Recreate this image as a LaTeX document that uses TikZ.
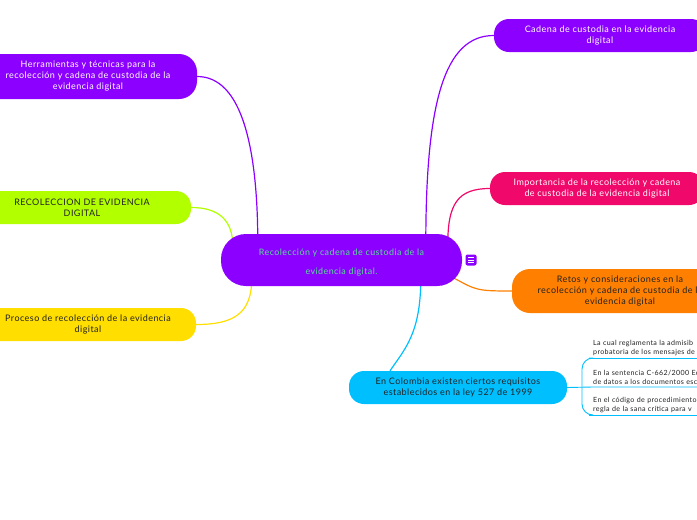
\documentclass[tikz,border=0pt]{standalone}
\usepackage{fontspec}
\setmainfont{Lato}[LetterSpace=5]
\usetikzlibrary{positioning, calc, backgrounds}

\definecolor{mindpurple}{RGB}{140,0,255}
\definecolor{mindpink}{RGB}{240,8,106}
\definecolor{mindorange}{RGB}{255,128,0}
\definecolor{mindlime}{RGB}{178,255,0}
\definecolor{mindyellow}{RGB}{255,222,0}
\definecolor{mindblue}{RGB}{0,191,255}
\definecolor{mindgreen}{RGB}{86,224,150}
\definecolor{minddark}{RGB}{34,34,34}

\tikzset{
  idea/.style={rounded corners=15pt, minimum height=33pt, align=center, inner sep=0pt,
    font=\fontsize{9}{11}\selectfont},
  link/.style={line width=1.2pt},
  note/.style={anchor=south west, align=left, inner xsep=0pt, inner ysep=2pt,
    text width=160pt, font=\fontsize{7.1}{9}\selectfont, text=minddark},
}

\begin{document}
\begin{tikzpicture}[x=1pt, y=-1pt]
  \useasboundingbox (0,0) rectangle (697,520);

  % Nodes
  \node[idea, fill=mindpurple, minimum width=241pt, minimum height=52pt,
    rounded corners=25pt] (main) at (341.5,260) {};
  \node[text=mindgreen, align=center, inner sep=0pt, font=\fontsize{8.9}{19}\selectfont]
    (maintext) at ($(main.center)+(0,2.5)$) {Recolección y cadena de custodia de la\\evidencia digital.};
  \node[fill=mindpurple, rounded corners=2pt, minimum size=11pt, inner sep=0pt,
    path picture={\foreach \k in {-2.5,0,2.5}
      \draw[white, line width=0.9pt] ($(path picture bounding box.center)+(-3,\k)$) -- +(6,0);}]
    (menu) at (471,260) {};

  \node[idea, fill=mindpurple, text=white, minimum width=218pt, minimum height=45pt, rounded corners=18pt]
    (tools) at (88,76.5) {Herramientas y técnicas para la\\recolección y cadena de custodia de la\\evidencia digital};
  \node[idea, fill=mindlime, text=minddark, minimum width=218pt]
    (collect) at (82,207.5) {RECOLECCION DE EVIDENCIA\\DIGITAL};
  \node[idea, fill=mindyellow, text=minddark, minimum width=216pt]
    (process) at (88,324.5) {Proceso de recolección de la evidencia\\digital};

  \node[idea, fill=mindpurple, text=white, minimum width=212pt]
    (chain) at (600,35.5) {Cadena de custodia en la evidencia\\digital};
  \node[idea, fill=mindpink, text=white, minimum width=214pt]
    (value) at (597,188.5) {Importancia de la recolección y cadena\\de custodia de la evidencia digital};
  \node[idea, fill=mindorange, text=minddark, minimum width=216pt, minimum height=44pt, rounded corners=18pt]
    (risks) at (620,291) {Retos y consideraciones en la\\recolección y cadena de custodia de la\\evidencia digital};
  \node[idea, fill=mindblue, text=minddark, minimum width=218pt]
    (law) at (458,387.5) {En Colombia existen ciertos requisitos\\establecidos en la ley 527 de 1999};

  \foreach \n/\y/\txt in {1/358/{La cual reglamenta la admisib\\probatoria de los mensajes de},
                          2/387/{En la sentencia C-662/2000 Ec\\de datos a los documentos esc},
                          3/415/{En el código de procedimiento\\regla de la sana crítica para v}}
    \node[note] (item\n) at (593,\y) {\txt};

  % Connectors
  \begin{pgfonlayer}{background}
    \draw[link, mindpurple] (tools.east) .. controls +(45,0) and +(0,-95) .. ($(main.north west)+(37,10)$);
    \draw[link, mindlime] (collect.east) .. controls +(28,0) and +(0,-25) .. ($(main.north west)+(12,12)$);
    \draw[link, mindyellow] (process.east) .. controls +(38,0) and +(0,35) .. ($(main.south west)+(31,-8)$);
    \draw[link, mindpurple] (chain.west) .. controls +(-50,0) and +(0,-140) .. ($(main.north west)+(205,10)$);
    \draw[link, mindpink] (value.west) .. controls +(-32,0) and +(0,-40) .. ($(main.north west)+(227,10)$);
    \draw[link, mindorange] (risks.west) .. controls +(-35,0) and +(22,12) .. ($(main.south east)+(-8,-8)$);
    \coordinate (lawtop) at ($(law.north)+(-68,0)$);
    \draw[link, mindblue] (lawtop) .. controls +(15,-22) and +(0,55) .. ($(main.south west)+(200,-8)$);
  \end{pgfonlayer}

  \draw[link, mindblue, line width=0.9pt] (law.east) -- (item2.south west) -- +(120,0);
  \draw[link, mindblue, line width=0.9pt, rounded corners=11pt]
    ($(item1.south west)+(-4,0)$) -| ($(item2.south west)+(-11,0)$) |- ($(item3.south west)+(-4,0)$);
  \foreach \n in {1,3}
    \draw[link, mindblue, line width=0.9pt] ($(item\n.south west)+(-4,0)$) -- +(124,0);
\end{tikzpicture}
\end{document}
